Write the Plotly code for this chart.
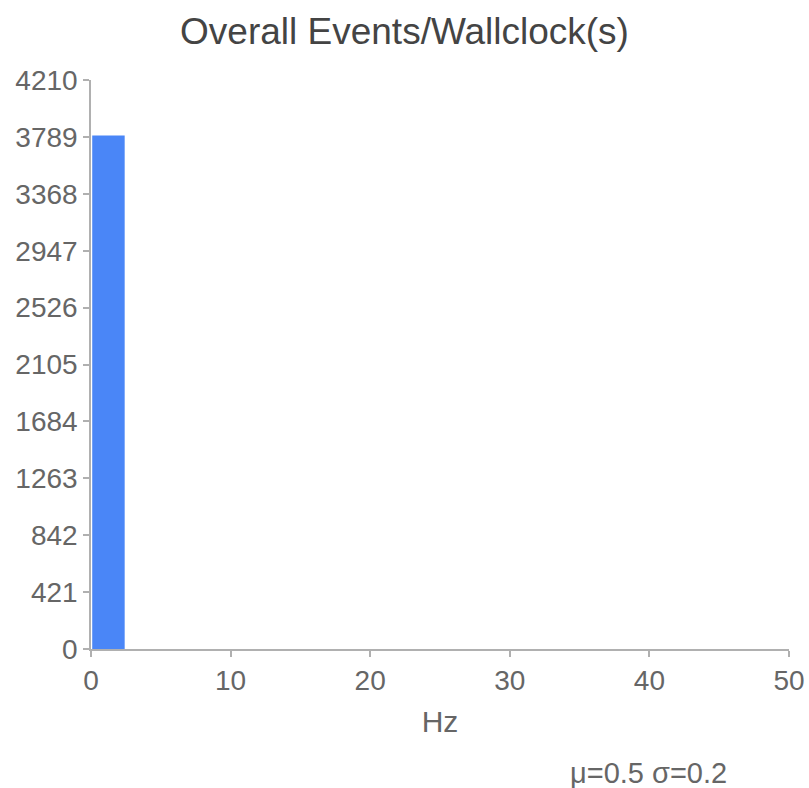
import plotly.graph_objects as go

bin_centers = [1.25, 3.75, 6.25, 8.75, 11.25, 13.75, 16.25, 18.75, 21.25, 23.75,
               26.25, 28.75, 31.25, 33.75, 36.25, 38.75, 41.25, 43.75, 46.25, 48.75]
counts = [3800, 0, 0, 0, 0, 0, 0, 0, 0, 0, 0, 0, 0, 0, 0, 0, 0, 0, 0, 0]
y_ticks = [0, 421, 842, 1263, 1684, 2105, 2526, 2947, 3368, 3789, 4210]
x_ticks = [0, 10, 20, 30, 40, 50]
title_text = "Overall Events/Wallclock(s)"
x_label = "Hz"
stats_text = "μ=0.5 σ=0.2"

W, H = 809, 788
L, T, R, B = 91, 80, 20, 139

fig = go.Figure()
fig.add_trace(go.Bar(x=bin_centers, y=counts, marker=dict(color="#4a86f7", line=dict(width=0)),
                     hoverinfo="x+y"))

axis_common = dict(showline=True, linecolor="#b0b0b0", linewidth=1.5, showgrid=False,
                   zeroline=False, ticks="outside", ticklen=6, tickcolor="#b0b0b0",
                   tickwidth=1.5, tickfont=dict(size=28, color="#666666"), automargin=False)

plot_h = H - T - B
plot_w = W - L - R
fig.update_layout(
    width=W, height=H,
    margin=dict(l=L, r=R, t=T, b=B, autoexpand=False),
    paper_bgcolor="white", plot_bgcolor="white",
    font=dict(family="Liberation Sans, Arial, sans-serif", color="#555555"),
    bargap=0.07,
    showlegend=False,
    title=dict(text=title_text, x=0.5, xanchor="center", y=1 - 31 / H, yanchor="middle",
               yref="container", font=dict(size=37, color="#444444")),
    xaxis=dict(range=[0, 50], tickvals=x_ticks, **axis_common,
               title=dict(text=x_label, font=dict(size=30, color="#666666"), standoff=16)),
    yaxis=dict(range=[0, 4210], tickvals=y_ticks, **axis_common),
    annotations=[dict(text=stats_text, xref="paper", yref="paper", x=(648 - L) / plot_w,
                      y=-(773 - (H - B)) / plot_h, xanchor="center", yanchor="middle",
                      showarrow=False, font=dict(size=29, color="#666666"))],
)

fig.write_html("out.html", config={"displayModeBar": False},
               post_script="document.body.style.margin='0';document.body.style.overflow='hidden';")
